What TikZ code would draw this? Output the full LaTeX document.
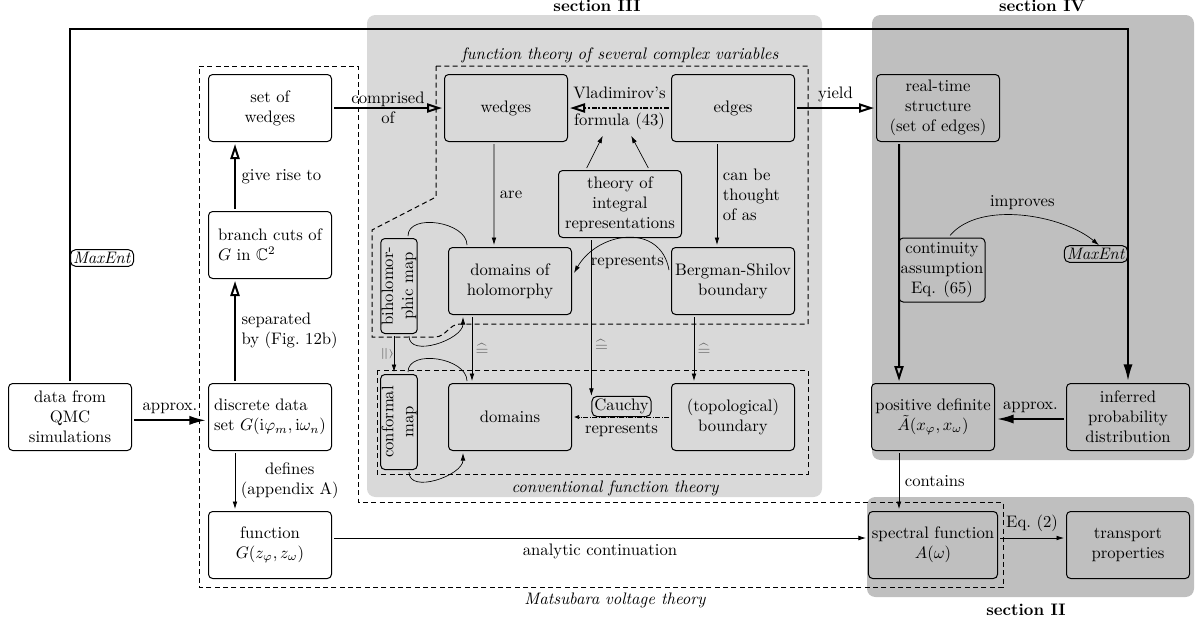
\documentclass[tikz,border=0pt]{standalone}
\usepackage{amsmath,amssymb}
\usetikzlibrary{arrows.meta, positioning, calc}

\begin{document}
\begin{tikzpicture}[
        x=0.6pt, y=0.6pt,
        % --- STYLES ---
        % 1. boxes
        box/.style={
                draw,
                semithick,
                rounded corners=2.5pt,
                align=center,
                minimum width=73.8pt,
                minimum height=40.2pt,
                inner sep=2pt,
                outer sep=1.5pt
            },
        lbox/.style={box, align=left},
        vbox/.style={
                box,
                rotate=90,
                minimum width=57pt,
                minimum height=21.6pt,
                inner sep=0.5pt
            },
        tag/.style={draw, solid, semithick, rounded corners=3pt, inner sep=1.5pt},
        % 2. arrows
        openarrow/.style={very thick, -{Triangle[open, length=9pt, width=5.5pt]}},
        fullarrow/.style={very thick, -{Latex[length=10pt, width=5.5pt]}},
        thinarrow/.style={thin, -{Latex[length=4.5pt, width=2.8pt]}},
        % 3. texts
        corr/.style={text=black!60, inner sep=2pt},
        area/.style={font=\itshape},
        sectitle/.style={font=\bfseries, anchor=base},
        region/.style={densely dashed, line width=0.6pt}
    ]

    \useasboundingbox (0,0) rectangle (1200,-623);

    % 1. Sections
    \fill[black!15, rounded corners=5pt] (367,-15) rectangle (822,-497);
    \fill[black!25, rounded corners=5pt] (872,-15) rectangle (1194,-460);
    \fill[black!25, rounded corners=5pt] (867,-497) rectangle (1194,-597);
    \node[sectitle] (s3) at (597,-11) {section III};
    \node[sectitle] (s4) at (1042,-11) {section IV};
    \node[sectitle] (s2) at (1026,-615) {section II};

    % 2. Theories (dashed)
    \draw[region] (199,-66) -- (358,-66) -- (358,-502) -- (1003,-502)
        -- (1003,-587) -- (199,-587) -- cycle;
    \draw[region] (436,-66) -- (808,-66) -- (808,-324) -- (460,-324)
        to[out=180,in=0] (435,-337) -- (372,-337) -- (372,-230) -- (436,-197) -- cycle;
    \draw[region] (377,-370) rectangle (808,-474);
    \node[area] (lft) at (620,-55) {function theory of several complex variables};
    \node[area] (lcft) at (615,-488) {conventional function theory};
    \node[area] (lmvt) at (615,-600) {Matsubara voltage theory};

    % 3. Boxes
    \node[box] (qmc) at (70,-417) {data from\\QMC\\simulations};
    \node[box] (sow) at (270,-108) {set of\\wedges};
    \node[lbox] (bcut) at (270,-245) {branch cuts of\\$G$ in $\mathbb{C}^2$};
    \node[lbox] (disc) at (270,-417) {discrete data\\set $G(\mathrm{i}\varphi_m,\mathrm{i}\omega_n)$};
    \node[box] (func) at (270,-545) {function\\$G(z_\varphi,z_\omega)$};

    \node[box] (wedg) at (506,-108) {wedges};
    \node[box] (edge) at (733,-108) {edges};
    \node[box] (theo) at (620,-204) {theory of\\integral\\representations};
    \node[box] (doh) at (510,-281) {domains of\\holomorphy};
    \node[box] (bsb) at (733,-281) {Bergman-Shilov\\boundary};
    \node[vbox] (bih) at (399,-286) {biholomor-\\phic map};
    \node[vbox] (conf) at (399,-422) {conformal\\map};
    \node[box] (dom) at (510,-417) {domains};
    \node[box] (topo) at (733,-417) {(topological)\\boundary};

    \node[box] (rt) at (938,-108) {real-time\\structure\\(set of edges)};
    \node[box, minimum width=51.6pt, minimum height=38.4pt, inner sep=1pt] (cont) at (942,-270) {continuity\\assumption\\Eq. (65)};
    \node[tag, anchor=east] (me2) at (1128,-254) {\textit{MaxEnt}};
    \node[box] (pd) at (933,-417) {positive definite\\$\tilde{A}(x_\varphi,x_\omega)$};
    \node[box] (inf) at (1128,-417) {inferred\\probability\\distribution};
    \node[box] (spec) at (933,-545) {spectral function\\$A(\omega)$};
    \node[box] (trans) at (1128,-545) {transport\\properties};

    % 4. MaxEnt loop
    \coordinate (top) at (0,-29);
    \draw[fullarrow] (qmc.north) -- (qmc.north |- top) -| (inf.north);
    \node[tag, anchor=west] (me1) at (70,-258) {\textit{MaxEnt}};

    % 5. Matsubara column
    \draw[fullarrow] ([yshift=-2pt]qmc.east) -- node[above] (lapp1) {approx.} ([yshift=-2pt]disc.west);
    \draw[openarrow] ([xshift=-21pt]disc.north) -- node[right, align=left] (lsep) {separated\\by (Fig.~12b)} ([xshift=-21pt]bcut.south);
    \draw[openarrow] ([xshift=-21pt]bcut.north) -- node[right] (lrise) {give rise to} ([xshift=-21pt]sow.south);
    \draw[thinarrow] ([xshift=-21pt]disc.south) -- node[right, align=center] (ldef) {defines\\(appendix A)} ([xshift=-21pt]func.north);

    % 6. Section III
    \draw[openarrow] (sow.east) -- node[align=center] (lcomp) {comprised\\of} (wedg.west);
    \draw[openarrow] (edge.east) -- node[above] (lyield) {yield} (rt.west);
    \draw[openarrow, densely dash dot] (edge.west) -- node[align=center] (vlad) {Vladimirov's\\[4pt]formula (43)} (wedg.east);
    \draw[thinarrow] ([xshift=-20pt]theo.north) -- ([xshift=-10pt]vlad.south);
    \draw[thinarrow] ([xshift=17pt]theo.north) -- ([xshift=7pt]vlad.south);
    \draw[thinarrow] ([xshift=-7.2pt]wedg.south) -- node[right] (lare) {are} ([xshift=-9.6pt]doh.north);
    \draw[thinarrow] ([xshift=-9.6pt]edge.south) -- node[right, align=left] (lthought) {can be\\thought\\of as} ([xshift=-9.6pt]bsb.north);
    \draw[thinarrow] ([yshift=6.6pt]bsb.west) to[out=100, in=60, looseness=1.3] node[below, yshift=-7pt] (lrep1) {represents} ([yshift=4.8pt]doh.east);

    \draw[thin, densely dash dot, -{Latex[length=3pt, width=2.5pt]}] (topo.west) -- node[tag, above] (cauchy) {Cauchy} node[below] (lrep2) {represents} (dom.east);
    \draw[thinarrow] (cauchy.north west |- theo.south) -- node[corr, right, pos=0.68] (leq3) {$\widehat{=}$} (cauchy.north west);
    \draw[thinarrow] ([xshift=-22.8pt]doh.south) -- node[corr, right] (leq1) {$\widehat{=}$} ([xshift=-22.8pt]dom.north);
    \draw[thinarrow] ([xshift=-23.4pt]bsb.south) -- node[corr, right] (leq2) {$\widehat{=}$} ([xshift=-23.4pt]topo.north);

    \draw[thin] ([xshift=5.4pt]bih.east) to[out=90, in=90] ([xshift=-25.8pt]doh.north);
    \draw[thinarrow] ([xshift=6pt]bih.west) to[out=-90, in=-90] ([xshift=-28.2pt]doh.south);
    \draw[thin] ([xshift=5.4pt]conf.east) to[out=90, in=90] ([xshift=-25.8pt]dom.north);
    \draw[thinarrow] ([xshift=6pt]conf.west) to[out=-90, in=-90] ([xshift=-28.2pt]dom.south);
    \draw[thinarrow] ([xshift=-3pt]bih.west) -- node[corr, midway, xshift=-4.5pt, rotate=-90, inner sep=0pt] (leq4) {$\widehat{=}$} ([xshift=-3pt]conf.east);

    % 7. Section IV and II
    \draw[openarrow] ([xshift=-23.4pt]rt.south) -- ([xshift=-20.4pt]pd.north);
    \draw[thinarrow] ([xshift=4.8pt]cont.north) to[out=50, in=140, looseness=0.8] node[above] (limp) {improves} ([xshift=1.8pt]me2.north);
    \draw[fullarrow] ([yshift=-1.2pt]inf.west) -- node[above] (lapp2) {approx.} ([yshift=-1.2pt]pd.east);
    \draw[thinarrow] ([xshift=-20.4pt]pd.south) -- node[right] (lcont) {contains} ([xshift=-20.4pt]spec.north);
    \draw[thinarrow] ([yshift=4.2pt]func.east) -- node[below] (lanal) {analytic continuation} ([yshift=4.2pt]spec.west);
    \draw[thinarrow] ([yshift=4.2pt]spec.east) -- node[above] (leq) {Eq.~(2)} ([yshift=4.2pt]trans.west);

\end{tikzpicture}
\end{document}
